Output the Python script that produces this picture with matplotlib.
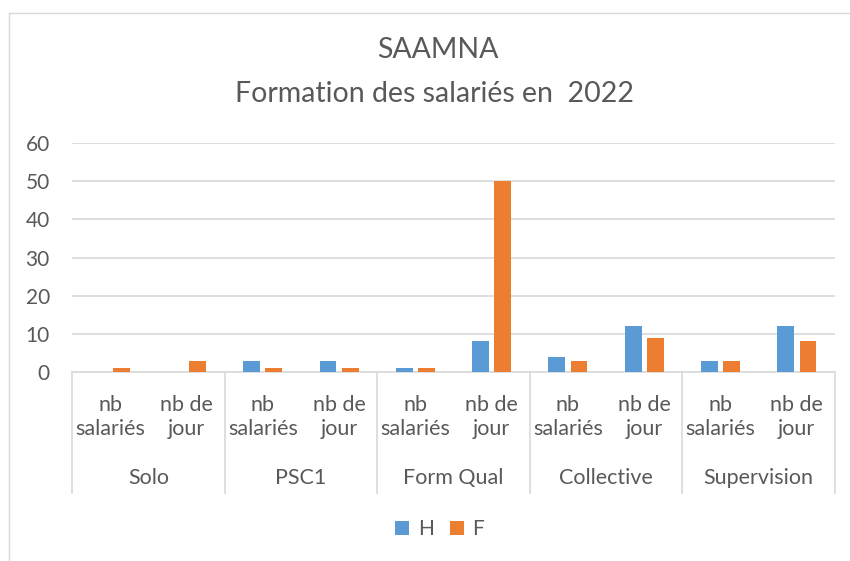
import numpy as np
import matplotlib.pyplot as plt
from matplotlib.lines import Line2D

plt.rcParams['font.family'] = ['Lato', 'DejaVu Sans']

# data
groups = ['Solo', 'PSC1', 'Form Qual', 'Collective', 'Supervision']
sub_labels = ['nb\nsalariés', 'nb de\njour']
series_names = ['H', 'F']
h_values = [0, 0, 3, 3, 1, 8, 4, 12, 3, 12]
f_values = [1, 3, 1, 1, 1, 50, 3, 9, 3, 8]
y_ticks = [0, 10, 20, 30, 40, 50, 60]

blue = '#5B9BD5'
orange = '#ED7D31'
text_col = '#595959'
grid_col = '#D9D9D9'

W, H = 850, 561
fig = plt.figure(figsize=(W / 100, H / 100), dpi=100)

# outer chart border (light gray)
fig.add_artist(Line2D([9 / W, 1], [1 - 13 / H, 1 - 13 / H], color=grid_col, lw=1))
fig.add_artist(Line2D([9 / W, 9 / W], [0, 1 - 13 / H], color=grid_col, lw=1))

ax = fig.add_axes([72 / W, 1 - 372 / H, (835 - 72) / W, (372 - 143) / H])

x = np.arange(len(h_values))
ax.bar(x - 0.145, h_values, width=0.22, color=blue, zorder=3)
ax.bar(x + 0.145, f_values, width=0.22, color=orange, zorder=3)

ax.set_xlim(-0.5, len(h_values) - 0.5)
ax.set_ylim(0, 60)
ax.set_yticks(y_ticks)
ax.yaxis.grid(True, color=grid_col, lw=1.2)
ax.set_axisbelow(True)
for s in ['top', 'right', 'left']:
    ax.spines[s].set_visible(False)
ax.spines['bottom'].set_color(grid_col)
ax.spines['bottom'].set_linewidth(1.2)
ax.tick_params(axis='y', length=0, pad=16, labelsize=15, labelcolor=text_col)
ax.set_xticks([])

# two-level category labels
tr = ax.get_xaxis_transform()
axh = 372 - 143
for i in x:
    ax.text(i, -(417 - 372) / axh, sub_labels[i % 2], transform=tr, ha='center', va='center',
            fontsize=15.5, color=text_col, linespacing=1.3)
for g, name in enumerate(groups):
    ax.text(2 * g + 0.5, -(478 - 372) / axh, name, transform=tr, ha='center', va='center',
            fontsize=15.5, color=text_col)
for b in range(len(groups) + 1):
    ax.plot([2 * b - 0.5, 2 * b - 0.5], [0, -(493 - 372) / axh], transform=tr,
            color=grid_col, lw=1.2, clip_on=False)

fig.text(438 / W, 1 - 50 / H, 'SAAMNA', ha='center', va='center', fontsize=20.5, color=text_col)
fig.text(435 / W, 1 - 94 / H, 'Formation des salariés en  2022', ha='center', va='center',
         fontsize=20.5, color=text_col)

# square legend markers
handles = [Line2D([], [], ls='none', marker='s', markersize=9.5, color=c, markeredgewidth=0)
           for c in (blue, orange)]
fig.legend(handles, series_names, loc='center', bbox_to_anchor=(440 / W, 1 - 529 / H), ncol=2,
           frameon=False, handlelength=0.6, handletextpad=0.45, columnspacing=0.8,
           fontsize=15, labelcolor=text_col)

fig.savefig('out.png', dpi=100)
